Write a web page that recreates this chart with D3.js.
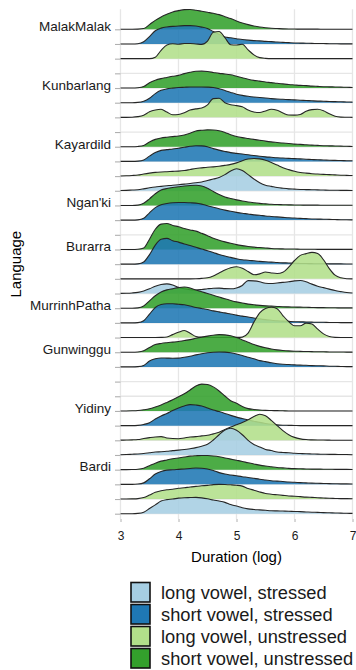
<!DOCTYPE html>
<html>
<head>
<meta charset="utf-8">
<script src="https://cdn.jsdelivr.net/npm/d3@7"></script>
<style>
  body { margin: 0; background: #fff; }
  svg { display: block; }
  text { font-family: "Liberation Sans", Arial, Helvetica, sans-serif; }
</style>
</head>
<body>
<svg id="chart" width="356" height="670"></svg>
<script>
// Sample points on the log-duration axis shared by every density curve
const durationGrid = [
  3.0, 3.1, 3.2, 3.3, 3.4, 3.5, 3.6, 3.7, 3.8, 3.9,
  4.0, 4.1, 4.2, 4.3, 4.4, 4.5, 4.6, 4.7, 4.8, 4.9,
  5.0, 5.1, 5.2, 5.3, 5.4, 5.5, 5.6, 5.7, 5.8, 5.9,
  6.0, 6.1, 6.2, 6.3, 6.4, 6.5, 6.6, 6.7, 6.8, 6.9,
  7.0
];
const xTicks = [3, 4, 5, 6, 7];

const languages = ["MalakMalak", "Kunbarlang", "Kayardild", "Ngan'ki", "Burarra",
                   "MurrinhPatha", "Gunwinggu", "Yidiny", "Bardi"];

// Vowel categories, in legend order
const vowelTypes = ["long vowel, stressed", "short vowel, stressed",
                    "long vowel, unstressed", "short vowel, unstressed"];
const vowelColors = ["#a6cee3", "#1f78b4", "#b2df8a", "#33a02c"];

// Ridge heights (scaled density) at each durationGrid point
const malakMalakSU = [0,0,0,0.01,0.05,0.32,0.61,0.84,1.02,1.18, 1.27,1.34,1.35,1.3,1.23,1.16,1.09,1.0,0.86,0.73, 0.57,0.43,0.32,0.23,0.16,0.11,0.07,0.05,0.03,0.02, 0.02,0.01,0.01,0.01,0.01,0,0,0,0,0, 0];
const malakMalakSS = [0,0,0,0.02,0.15,0.5,0.9,1.08,1.16,1.2, 1.22,1.25,1.25,1.22,1.15,1.05,0.85,0.66,0.48,0.42, 0.36,0.3,0.26,0.23,0.21,0.18,0.16,0.13,0.11,0.09, 0.07,0.06,0.05,0.04,0.035,0.03,0.02,0.015,0.01,0.01, 0.005];
const malakMalakLU = [0,0,0,0,0,0,0.1,0.57,0.93,1.02, 0.98,1.03,1.03,1.0,0.97,1.2,1.8,1.85,1.43,0.95, 0.93,0.98,0.6,0.26,0.07,0.02,0,0,0,0, 0,0,0,0,0,0,0,0,0,0, 0];

const kunbarlangSU = [0,0,0,0.02,0.1,0.36,0.53,0.64,0.72,0.8, 0.86,0.98,1.07,1.14,1.15,1.12,1.06,1.0,0.96,0.9, 0.8,0.7,0.6,0.52,0.47,0.41,0.37,0.32,0.28,0.24, 0.21,0.18,0.16,0.13,0.11,0.09,0.08,0.07,0.06,0.05, 0.04];
const kunbarlangSS = [0,0,0,0.02,0.1,0.3,0.62,0.84,0.94,0.99, 1.03,1.05,1.07,1.07,1.07,1.06,1.03,0.95,0.83,0.7, 0.58,0.5,0.44,0.39,0.35,0.32,0.28,0.25,0.23,0.21, 0.19,0.17,0.15,0.13,0.11,0.1,0.08,0.07,0.06,0.05, 0.04];
const kunbarlangLU = [0,0,0.01,0.05,0.15,0.38,0.5,0.55,0.36,0.18, 0.2,0.32,0.5,0.58,0.64,0.85,1.28,1.3,1.0,0.86, 0.8,0.72,0.5,0.37,0.33,0.44,0.55,0.48,0.3,0.16, 0.15,0.2,0.42,0.53,0.55,0.45,0.24,0.08,0.02,0.01, 0];

const kayardildSU = [0,0,0,0.02,0.09,0.32,0.5,0.6,0.65,0.69, 0.73,0.8,0.92,1.07,1.12,1.15,1.14,1.09,0.97,0.82, 0.7,0.62,0.56,0.5,0.44,0.38,0.33,0.29,0.25,0.22, 0.18,0.16,0.13,0.11,0.09,0.07,0.06,0.05,0.04,0.03, 0.02];
const kayardildSS = [0,0,0,0.02,0.1,0.36,0.6,0.75,0.8,0.84, 0.9,0.96,1.03,1.07,1.06,1.0,0.87,0.77,0.68,0.6, 0.55,0.5,0.45,0.4,0.35,0.31,0.28,0.25,0.23,0.21, 0.19,0.17,0.15,0.13,0.11,0.1,0.08,0.07,0.06,0.05, 0.04];
const kayardildLU = [0.01,0.02,0.04,0.07,0.14,0.2,0.25,0.28,0.3,0.32, 0.34,0.38,0.45,0.52,0.56,0.6,0.63,0.67,0.73,0.8, 0.9,1.05,1.16,1.2,1.17,1.08,0.93,0.75,0.57,0.44, 0.33,0.25,0.2,0.16,0.14,0.12,0.1,0.08,0.06,0.05, 0.04];
const kayardildLS = [0.02,0.03,0.05,0.07,0.13,0.2,0.26,0.3,0.34,0.38, 0.41,0.45,0.5,0.55,0.6,0.7,0.8,0.9,1.1,1.35, 1.5,1.38,1.1,0.8,0.55,0.38,0.3,0.22,0.17,0.13, 0.11,0.09,0.08,0.07,0.06,0.05,0.04,0.04,0.03,0.03, 0.02];

const ngankiSU = [0,0,0,0.02,0.15,0.45,0.8,1.05,1.15,1.22, 1.27,1.32,1.36,1.38,1.33,1.17,0.95,0.75,0.58,0.47, 0.38,0.3,0.23,0.18,0.14,0.11,0.08,0.06,0.05,0.04, 0.03,0.03,0.02,0.02,0.02,0.01,0.01,0.01,0.01,0.01, 0.01];
const ngankiSS = [0,0,0,0.02,0.12,0.5,0.85,1.05,1.13,1.18, 1.2,1.2,1.18,1.16,1.09,0.98,0.88,0.78,0.68,0.6, 0.53,0.47,0.42,0.36,0.33,0.28,0.25,0.22,0.19,0.16, 0.14,0.12,0.1,0.08,0.07,0.06,0.05,0.04,0.03,0.03, 0.02];

const burarraSU = [0,0,0,0.02,0.1,0.7,1.38,1.73,1.77,1.64, 1.55,1.43,1.33,1.25,1.1,0.94,0.76,0.63,0.52,0.42, 0.33,0.26,0.2,0.16,0.13,0.1,0.07,0.05,0.04,0.03, 0.03,0.02,0.02,0.02,0.01,0.01,0.01,0.01,0.01,0.01, 0.01];
const burarraSS = [0,0,0,0.02,0.15,0.65,1.3,1.7,1.76,1.6, 1.5,1.38,1.27,1.15,1.03,0.92,0.8,0.66,0.55,0.46, 0.37,0.3,0.27,0.23,0.19,0.16,0.14,0.11,0.09,0.08, 0.06,0.05,0.04,0.035,0.03,0.03,0.02,0.02,0.02,0.01, 0.01];
const burarraLU = [0,0,0,0,0,0,0,0,0,0, 0,0,0,0.01,0.03,0.07,0.2,0.4,0.6,0.75, 0.82,0.72,0.5,0.28,0.34,0.47,0.4,0.36,0.45,0.8, 1.25,1.6,1.72,1.8,1.73,1.3,0.7,0.25,0.07,0.01, 0];
const burarraLS = [0.01,0.02,0.04,0.08,0.17,0.32,0.5,0.62,0.66,0.58, 0.42,0.32,0.26,0.24,0.27,0.32,0.36,0.37,0.33,0.32, 0.38,0.55,0.88,0.86,0.8,0.7,0.68,0.72,0.76,0.8, 0.86,0.89,0.8,0.64,0.5,0.4,0.3,0.2,0.13,0.07, 0.04];

const murrinhPathaSU = [0,0,0,0.02,0.15,0.5,0.85,1.1,1.25,1.33, 1.4,1.44,1.38,1.24,1.12,1.0,0.88,0.76,0.64,0.53, 0.43,0.35,0.28,0.23,0.19,0.16,0.14,0.12,0.1,0.09, 0.08,0.07,0.06,0.05,0.04,0.04,0.03,0.03,0.02,0.02, 0.02];
const murrinhPathaSS = [0,0,0,0.02,0.15,0.6,1.05,1.25,1.3,1.3, 1.27,1.23,1.15,1.05,0.98,0.91,0.82,0.75,0.68,0.6, 0.53,0.46,0.4,0.33,0.27,0.22,0.18,0.14,0.12,0.1, 0.08,0.07,0.06,0.05,0.04,0.04,0.03,0.03,0.02,0.02, 0.02];
const murrinhPathaLU = [0,0,0,0,0,0,0,0.01,0.04,0.2, 0.36,0.48,0.3,0.07,0.02,0.01,0,0,0,0.005, 0.01,0.03,0.3,1.05,1.68,1.98,2.06,1.97,1.5,1.08, 0.8,0.8,0.98,0.92,0.57,0.25,0.07,0.01,0,0, 0];

const gunwingguSU = [0,0,0,0.02,0.1,0.32,0.52,0.6,0.65,0.69, 0.73,0.8,0.86,0.95,1.03,1.1,1.16,1.2,1.18,1.12, 1.0,0.84,0.68,0.52,0.4,0.3,0.22,0.16,0.12,0.09, 0.07,0.06,0.05,0.04,0.03,0.03,0.02,0.02,0.02,0.01, 0.01];
const gunwingguSS = [0,0,0,0.02,0.1,0.4,0.55,0.61,0.6,0.59, 0.6,0.66,0.73,0.82,0.9,0.96,1.0,1.02,1.01,0.96, 0.88,0.78,0.66,0.55,0.43,0.36,0.28,0.22,0.18,0.16, 0.14,0.12,0.11,0.09,0.08,0.07,0.05,0.04,0.03,0.02, 0.02];

const yidinySU = [0,0,0.01,0.03,0.08,0.15,0.27,0.41,0.58,0.76, 0.96,1.17,1.43,1.7,1.83,1.8,1.64,1.36,1.02,0.7, 0.52,0.3,0.16,0.1,0.06,0.04,0.03,0.02,0.01,0, 0,0,0,0,0,0,0,0,0,0, 0];
const yidinySS = [0,0,0,0.02,0.08,0.2,0.45,0.66,0.83,1.03, 1.2,1.34,1.43,1.4,1.34,1.2,1.06,0.96,0.83,0.7, 0.58,0.48,0.38,0.3,0.22,0.15,0.09,0.05,0.03,0.02, 0.01,0,0,0,0,0,0,0,0,0, 0];
const yidinyLU = [0.01,0.02,0.03,0.05,0.12,0.18,0.23,0.25,0.16,0.12, 0.11,0.16,0.22,0.25,0.3,0.34,0.44,0.55,0.73,0.9, 1.06,1.22,1.4,1.62,1.78,1.67,1.36,1.0,0.66,0.38, 0.2,0.1,0.05,0.03,0.02,0.02,0.01,0,0,0, 0];
const yidinyLS = [0.02,0.03,0.05,0.07,0.1,0.15,0.2,0.22,0.25,0.3, 0.33,0.37,0.43,0.5,0.6,0.73,1.02,1.38,1.7,1.82, 1.68,1.38,1.0,0.72,0.55,0.38,0.3,0.2,0.17,0.15, 0.12,0.1,0.08,0.07,0.06,0.05,0.04,0.04,0.03,0.03, 0.02];

const bardiSU = [0,0,0.01,0.03,0.1,0.27,0.44,0.58,0.66,0.74, 0.8,0.86,0.92,0.95,0.97,0.96,0.93,0.88,0.8,0.72, 0.64,0.56,0.47,0.39,0.31,0.25,0.2,0.15,0.12,0.09, 0.07,0.06,0.05,0.04,0.04,0.03,0.03,0.02,0.02,0.02, 0.01];
const bardiSS = [0,0,0,0.02,0.1,0.38,0.7,0.88,0.97,0.99, 1.02,1.05,1.08,1.11,1.1,1.04,0.94,0.8,0.7,0.64, 0.58,0.52,0.47,0.41,0.35,0.3,0.25,0.22,0.19,0.16, 0.14,0.12,0.1,0.08,0.07,0.06,0.05,0.04,0.03,0.03, 0.02];
const bardiLU = [0,0,0.01,0.03,0.1,0.27,0.46,0.56,0.63,0.67, 0.73,0.77,0.82,0.86,0.9,0.93,0.98,1.0,0.99,0.97, 0.94,0.88,0.72,0.6,0.48,0.38,0.33,0.29,0.25,0.21, 0.19,0.16,0.13,0.11,0.09,0.07,0.05,0.04,0.03,0.03, 0.02];
const bardiLS = [0,0,0,0.02,0.1,0.35,0.6,0.86,0.96,1.0, 1.06,1.09,1.1,1.11,1.08,1.02,0.93,0.86,0.77,0.62, 0.52,0.4,0.33,0.29,0.26,0.23,0.2,0.19,0.18,0.17, 0.15,0.14,0.12,0.1,0.09,0.07,0.06,0.05,0.04,0.03, 0.02];

// One slot per ridge row, top to bottom; a null series leaves the row empty
const SU = "short vowel, unstressed", SS = "short vowel, stressed",
      LU = "long vowel, unstressed",  LS = "long vowel, stressed";
const rowSlots = [
  ["MalakMalak", SU, malakMalakSU], ["MalakMalak", SS, malakMalakSS], ["MalakMalak", LU, malakMalakLU], ["MalakMalak", LS, null],
  ["Kunbarlang", SU, kunbarlangSU], ["Kunbarlang", SS, kunbarlangSS], ["Kunbarlang", LU, kunbarlangLU], ["Kunbarlang", LS, null],
  ["Kayardild", SU, kayardildSU], ["Kayardild", SS, kayardildSS], ["Kayardild", LU, kayardildLU], ["Kayardild", LS, kayardildLS],
  ["Ngan'ki", SU, ngankiSU], ["Ngan'ki", SS, ngankiSS], ["Ngan'ki", LU, null],
  ["Burarra", SU, burarraSU], ["Burarra", SS, burarraSS], ["Burarra", LU, burarraLU], ["Burarra", LS, burarraLS],
  ["MurrinhPatha", SU, murrinhPathaSU], ["MurrinhPatha", SS, murrinhPathaSS], ["MurrinhPatha", LU, murrinhPathaLU],
  ["Gunwinggu", SU, gunwingguSU], ["Gunwinggu", SS, gunwingguSS], ["Gunwinggu", LU, null], ["Gunwinggu", LS, null],
  ["Yidiny", SU, yidinySU], ["Yidiny", SS, yidinySS], ["Yidiny", LU, yidinyLU], ["Yidiny", LS, yidinyLS],
  ["Bardi", SU, bardiSU], ["Bardi", SS, bardiSS], ["Bardi", LU, bardiLU], ["Bardi", LS, bardiLS]
];

// ---------------------------------------------------------------------------
const svg = d3.select("#chart");
const panel = { left: 120.5, right: 352.5, top: 9.3, bottom: 519 };

const rows = rowSlots.map((r, i) => ({ id: "r" + i, language: r[0], type: r[1], values: r[2] }));
const firstOfLanguage = new Set(languages.map(l => rows.find(r => r.language === l).id));

const x = d3.scaleLinear().domain([3, 7]).range([panel.left, panel.right]);
const y = d3.scalePoint().domain(rows.map(r => r.id)).range([29.3, 513.7]);
const ridgeHeight = d3.scaleLinear().domain([0, 1]).range([0, y.step()]);
const color = d3.scaleOrdinal().domain(vowelTypes).range(vowelColors);

// Grid
const grid = svg.append("g");
grid.selectAll("line.v").data(xTicks).join("line")
  .attr("x1", d => x(d)).attr("x2", d => x(d))
  .attr("y1", panel.top).attr("y2", panel.bottom)
  .attr("stroke", "#e6e6e6").attr("stroke-width", 1.3);
grid.selectAll("line.h").data(rows).join("line")
  .attr("x1", panel.left).attr("x2", panel.right)
  .attr("y1", d => y(d.id)).attr("y2", d => y(d.id))
  .attr("stroke", "#e6e6e6").attr("stroke-width", 1.3);

// Ridges, drawn top to bottom so lower rows overlap upper ones
const ridgeLayer = svg.append("g");
rows.filter(r => r.values).forEach(r => {
  const base = y(r.id);
  const pts = durationGrid.map((d, i) => [d, r.values[i]]);
  const area = d3.area()
    .x(d => x(d[0])).y0(base).y1(d => base - ridgeHeight(d[1]))
    .curve(d3.curveMonotoneX);
  const line = d3.line()
    .x(d => x(d[0])).y(d => base - ridgeHeight(d[1]))
    .curve(d3.curveMonotoneX);
  const g = ridgeLayer.append("g");
  g.append("path").attr("d", area(pts))
    .attr("fill", color(r.type)).attr("fill-opacity", 0.88);
  g.append("path").attr("d", line(pts))
    .attr("fill", "none").attr("stroke", "#262626").attr("stroke-width", 1.1);
});

// Y axis
const yAxis = svg.append("g").attr("transform", `translate(${panel.left},0)`)
  .call(d3.axisLeft(y).tickSize(5.5).tickPadding(4)
    .tickFormat(id => firstOfLanguage.has(id) ? rows.find(r => r.id === id).language : ""));
yAxis.select(".domain").remove();
yAxis.selectAll(".tick line").attr("stroke", "#b0b0b0").attr("stroke-width", 1.1);
yAxis.selectAll(".tick text")
  .attr("dy", 1.3)
  .attr("fill", "#1a1a1a")
  .style("font-size", "13.5px");

// X axis
const xAxis = svg.append("g").attr("transform", `translate(0,${panel.bottom})`)
  .call(d3.axisBottom(x).tickValues(xTicks).tickSize(3).tickPadding(9.5).tickFormat(d3.format("d")));
xAxis.select(".domain").remove();
xAxis.selectAll(".tick line").attr("stroke", "#b0b0b0");
xAxis.selectAll(".tick text").attr("fill", "#1a1a1a").style("font-size", "12px");

// Axis titles
svg.append("text")
  .attr("x", (panel.left + panel.right) / 2).attr("y", 561.5)
  .attr("text-anchor", "middle").attr("fill", "#000")
  .style("font-size", "15px").text("Duration (log)");
svg.append("text")
  .attr("transform", `translate(20.5,${(panel.top + panel.bottom) / 2}) rotate(-90)`)
  .attr("text-anchor", "middle").attr("fill", "#000")
  .style("font-size", "15px").text("Language");

// Legend
const legend = svg.append("g").attr("transform", "translate(131,582.5)");
const item = legend.selectAll("g").data(vowelTypes).join("g")
  .attr("transform", (d, i) => `translate(0,${i * 22})`);
item.append("rect")
  .attr("x", 0).attr("y", 0).attr("width", 19).attr("height", 19.5)
  .attr("fill", d => color(d)).attr("stroke", "#111").attr("stroke-width", 1.6);
item.append("text")
  .attr("x", 30).attr("y", 16.3)
  .attr("fill", "#1a1a1a").style("font-size", "18.3px")
  .text(d => d);
</script>
</body>
</html>
